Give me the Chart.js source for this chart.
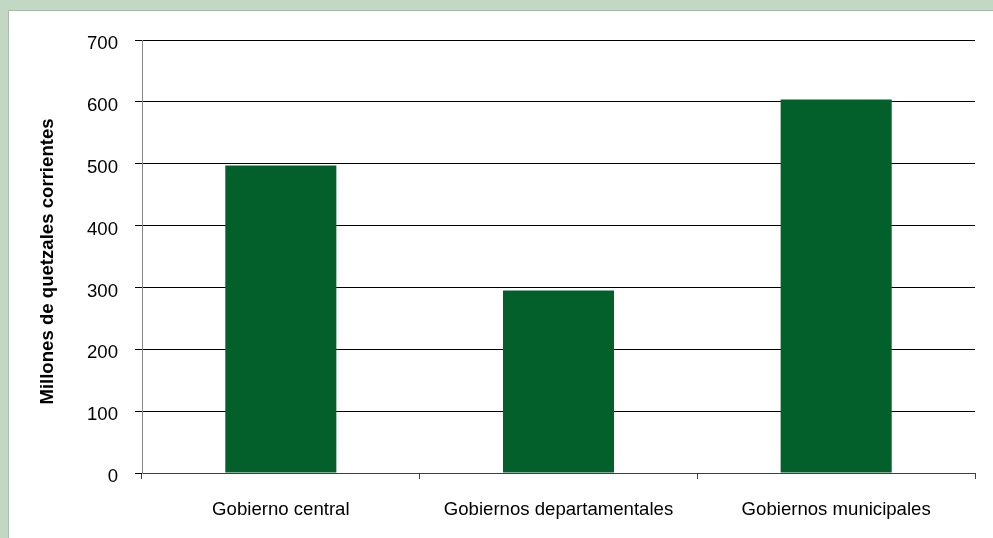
<!DOCTYPE html>
<html>
<head>
<meta charset="utf-8">
<script src="https://cdn.jsdelivr.net/npm/chart.js@4"></script>
<style>
  html, body { margin: 0; padding: 0; background: #c3d8c3; overflow: hidden; }
  #panel { position: absolute; left: 8px; top: 10px; width: 993px; height: 538px; background: #fff; border-left: 1px solid #a9b9a9; border-top: 1px solid #a9b9a9; }
  #chart { position: absolute; left: 0; top: 0; }
</style>
</head>
<body>
<div id="panel"></div>
<canvas id="chart" width="993" height="538"></canvas>
<script>
'use strict';

// --- DATA ---
const categories = ['Gobierno central', 'Gobiernos departamentales', 'Gobiernos municipales'];
const values = [497, 295, 604];
const yTitle = 'Millones de quetzales corrientes';

const FONT = "'Liberation Sans', Arial, sans-serif";
const SIZE = 18.6;

// y title sits a bit below the plot's vertical centre, like the original
const yTitlePlugin = {
    id: 'yTitle',
    afterDraw(chart) {
        const { ctx, chartArea } = chart;
        ctx.save();
        ctx.translate(47.5, (chartArea.top + chartArea.bottom) / 2 + 5);
        ctx.rotate(-Math.PI / 2);
        ctx.font = `bold ${SIZE}px ${FONT}`;
        ctx.fillStyle = '#000';
        ctx.textAlign = 'center';
        ctx.textBaseline = 'middle';
        ctx.fillText(yTitle, 0, 0);
        ctx.restore();
    }
};

new Chart(document.getElementById('chart'), {
    type: 'bar',
    data: {
        labels: categories,
        datasets: [{
            data: values,
            backgroundColor: '#03602a',
            borderWidth: 0,
            barPercentage: 0.4,
            categoryPercentage: 1
        }]
    },
    options: {
        responsive: false,
        devicePixelRatio: 1,
        animation: false,
        layout: { padding: { top: 40, right: 18, left: 0, bottom: 0 } },
        plugins: { legend: { display: false }, tooltip: { enabled: false } },
        scales: {
            x: {
                grid: { offset: true, drawOnChartArea: false, drawTicks: true, tickLength: 6, color: '#404040' },
                border: { color: '#404040', width: 1 },
                ticks: { color: '#000', font: { family: FONT, size: SIZE }, padding: 20, maxRotation: 0 },
                afterFit: (scale) => { scale.height = 65; }
            },
            y: {
                min: 0,
                max: 700,
                ticks: { stepSize: 100, color: '#000', font: { family: FONT, size: SIZE }, padding: 17, labelOffset: 4 },
                grid: { color: '#000', tickLength: 7, lineWidth: 1 },
                border: { color: '#868686', width: 1 },
                afterFit: (scale) => { scale.width = 142; }
            }
        }
    },
    plugins: [yTitlePlugin]
});
</script>
</body>
</html>
